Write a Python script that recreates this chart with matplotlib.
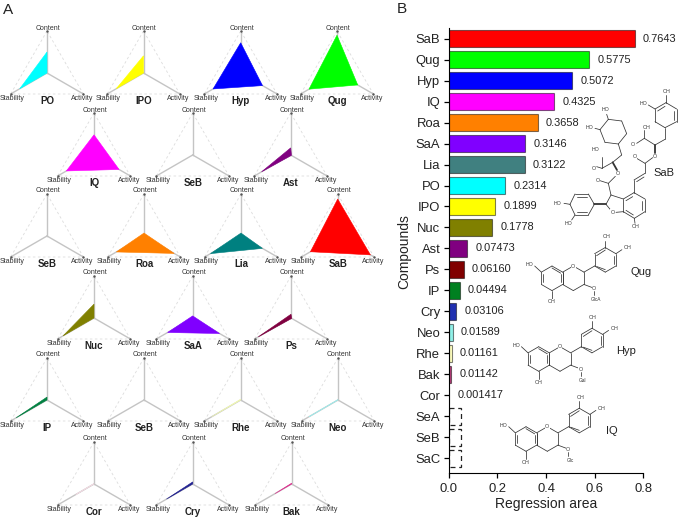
import numpy as np
import matplotlib
matplotlib.use('Agg')
import matplotlib.pyplot as plt

plt.rcParams['font.family'] = ['Liberation Sans', 'DejaVu Sans']

# panel B data
compounds = ['SaB', 'Qug', 'Hyp', 'IQ', 'Roa', 'SaA', 'Lia', 'PO', 'IPO', 'Nuc', 'Ast', 'Ps', 'IP', 'Cry',
             'Neo', 'Rhe', 'Bak', 'Cor', 'SeA', 'SeB', 'SaC']
areas = [0.7643, 0.5775, 0.5072, 0.4325, 0.3658, 0.3146, 0.3122, 0.2314, 0.1899, 0.1778, 0.07473, 0.06160,
         0.04494, 0.03106, 0.01589, 0.01161, 0.01142, 0.001417]
area_labels = ['0.7643', '0.5775', '0.5072', '0.4325', '0.3658', '0.3146', '0.3122', '0.2314', '0.1899', '0.1778',
               '0.07473', '0.06160', '0.04494', '0.03106', '0.01589', '0.01161', '0.01142', '0.001417']
not_detected = [0.05, 0.05, 0.05]
bar_colors = ['#ff0000', '#00ff00', '#0000ff', '#ff00ff', '#ff8000', '#8000ff', '#408080', '#00ffff', '#ffff00',
              '#808000', '#800080', '#800000', '#008020', '#2030b0', '#90f0e8', '#ffffc0', '#c04080', '#ffffff']

# panel A data (fraction of each axis)
radar_names = ['PO', 'IPO', 'Hyp', 'Qug', 'IQ', 'SeB', 'Ast', 'SeB', 'Roa', 'Lia', 'SaB', 'Nuc', 'SaA', 'Ps',
               'IP', 'SeB', 'Rhe', 'Neo', 'Cor', 'Cry', 'Bak']
content = [0.50, 0.41, 0.72, 0.90, 0.48, 0, 0.17, 0, 0.07, 0.07, 0.88, 0.33, 0.05, 0.09, 0.07, 0, 0.02, 0.01, 0.01, 0.05, 0.02]
stability = [0.75, 0.75, 0.76, 0.77, 0.76, 0, 0.80, 0, 0.76, 0.84, 0.75, 0.85, 0.69, 0.90, 0.85, 0, 0.80, 0.80, 0.50, 0.72, 0.46]
activity = [0, 0, 0.60, 0.57, 0.69, 0, 0.02, 0, 0.83, 0.59, 0.90, 0, 0.74, 0.02, 0, 0, 0, 0, 0, 0, 0]
radar_colors = ['#00ffff', '#ffff00', '#0000ff', '#00ff00', '#ff00ff', '#ffffff', '#800080', '#ffffff', '#ff8000',
                '#008080', '#ff0000', '#808000', '#8000ff', '#800040', '#008040', '#ffffff', '#f0f8b0', '#a0e8e8',
                '#f0d8e0', '#202090', '#e03090']

# radar layout in pixels
radar_x = [47, 143.5, 240.7, 337, 94, 192.7, 290.7, 47, 144, 241, 337.7, 94, 192.7, 291, 47, 144, 240.7, 338, 94, 192.7, 291.7]
radar_y = [73] * 4 + [155] * 3 + [236] * 4 + [318] * 3 + [400] * 4 + [484] * 3

W, H = 678, 518
fig = plt.figure(figsize=(W / 100, H / 100), dpi=100)

# bar chart
x0, x1, y_top, y_bot = 448.7, 643.3, 28, 473.3
ax = fig.add_axes([x0 / W, 1 - y_bot / H, (x1 - x0) / W, (y_bot - y_top) / H])
pos = np.arange(len(compounds))
ax.barh(pos[:18], areas, height=0.8, color=bar_colors, edgecolor='#00000080', linewidth=0.8)
ax.barh(pos[18:], not_detected, height=0.82, fill=False, edgecolor='#222222', linewidth=0.9, linestyle=(0, (4, 3)))
for p, v, s in zip(pos, areas, area_labels):
    ax.annotate(s, (v, p), xytext=(6, 0), textcoords='offset points', va='center', ha='left', fontsize=7.9, color='#222222')
ax.set_xlim(0, 0.8)
ax.set_ylim(20.72, -0.51)
ax.set_yticks(pos)
ax.set_yticklabels(compounds, fontsize=9.4, color='#222222')
ax.set_xticks([0, 0.2, 0.4, 0.6, 0.8])
ax.set_xticklabels(['0.0', '0.2', '0.4', '0.6', '0.8'], fontsize=9.4, color='#222222')
ax.tick_params(axis='both', length=3.5, width=0.9, pad=2.5)
ax.tick_params(axis='x', pad=3.5)
ax.spines['top'].set_visible(False)
ax.spines['right'].set_visible(False)
ax.set_xlabel('Regression area', fontsize=10, color='#222222', labelpad=1.5)

# overlay in pixel coordinates
ov = fig.add_axes([0, 0, 1, 1], facecolor='none')
ov.set_xlim(0, W)
ov.set_ylim(H, 0)
ov.axis('off')
ov.text(404, 252, 'Compounds', rotation=90, ha='center', va='center', fontsize=10, color='#222222')
ov.text(3, 14, 'A', fontsize=11, color='#222222')
ov.text(397, 13, 'B', fontsize=11, color='#222222')

R = 42
dirs = np.array([[0, -1], [-0.866, 0.5], [0.866, 0.5]])
for i, name in enumerate(radar_names):
    c = np.array([radar_x[i], radar_y[i]])
    tips = c + R * dirs
    ov.plot(*np.vstack([tips, tips[0]]).T, color='#dcdcdc', lw=0.6, ls=(0, (3, 3)), zorder=1)
    for t in tips:
        ov.plot([c[0], t[0]], [c[1], t[1]], color='#c4c4c4', lw=1.0, zorder=2)
        ov.plot(t[0], t[1], marker='.', ms=1.5, color='#555555', zorder=2)
    vals = np.array([content[i], stability[i], activity[i]])
    pts = c + R * dirs * vals[:, None]
    ov.fill(pts[:, 0], pts[:, 1], color=radar_colors[i], lw=0.4, zorder=3)
    ov.text(c[0] + 1, c[1] - 45, 'Content', ha='center', va='center', fontsize=5, color='#333333')
    ov.text(c[0] - 35, c[1] + 25.5, 'Stability', ha='center', va='center', fontsize=5, color='#333333')
    ov.text(c[0] + 35, c[1] + 25.5, 'Activity', ha='center', va='center', fontsize=5, color='#333333')
    ov.text(c[0], c[1] + 28, name, ha='center', va='center', fontsize=7, fontweight='bold', color='#222222')


# chemical structure sketches
def bond(p, q, lw=0.55, **kw):
    ov.plot([p[0], q[0]], [p[1], q[1]], color='#333333', lw=lw, solid_capstyle='round', **kw)


def ring(pts):
    for a, b in zip(pts, pts[1:] + pts[:1]):
        bond(a, b)


def atom(x, y, s, fs=3.8):
    ov.text(x, y, s, ha='center', va='center', fontsize=fs, color='#333333',
            bbox=dict(boxstyle='square,pad=0.05', fc='white', ec='none'))


def flavonoid(ox, oy, sugar, name, nx, ny):
    r = 12.3
    dx, dy = r * 0.866, r * 0.5
    o = (ox, oy)
    c2 = (ox + dx, oy + dy)
    c3 = (ox + dx, oy + dy + r)
    c4 = (ox, oy + 2 * r)
    c4a = (ox - dx, oy + dy + r)
    c8a = (ox - dx, oy + dy)
    ring([o, c2, c3, c4, c4a, c8a])
    a = [c8a, c4a, (ox - 2 * dx, oy + 2 * r), (ox - 3 * dx, oy + dy + r), (ox - 3 * dx, oy + dy), (ox - 2 * dx, oy)]
    ring(a)
    bond((ox - dx - 2, oy + dy + 2), (ox - dx - 2, oy + dy + r - 2))
    bond((ox - 3 * dx + 2, oy + dy + 2), (ox - 3 * dx + 2, oy + dy + r - 2))
    bond((ox - 2 * dx, oy + 2), (ox - dx - 2, oy + dy + 1))
    # hydroxyls on ring A
    bond(a[4], (ox - 4 * dx + 4, oy))
    atom(ox - 4 * dx - 1, oy - 1, 'HO')
    bond(a[2], (ox - 2 * dx, oy + 2 * r + 8))
    atom(ox - 2 * dx, oy + 2 * r + 11, 'OH')
    # ring B
    bx, by = c2[0] + dx, c2[1] - dy
    b = [(bx, by), (bx, by - r), (bx + dx, by - r - dy), (bx + 2 * dx, by - r), (bx + 2 * dx, by), (bx + dx, by + dy)]
    bond(c2, b[0])
    ring(b)
    bond((bx + 2, by - r + 2), (bx + dx, by - r - dy + 2.5))
    bond((bx + 2 * dx - 2, by - r + 2), (bx + 2 * dx - 2, by - 2))
    bond((bx + 2, by + 0.5), (bx + dx, by + dy - 2.5))
    bond(b[2], (bx + dx, by - r - dy - 7))
    atom(bx + dx + 1, by - r - dy - 11, 'OH')
    bond(b[3], (bx + 2 * dx + 6, by - r - 4))
    atom(bx + 2 * dx + 12, by - r - 6, 'OH')
    # sugar
    bond(c3, (c3[0] + 8, c3[1] + 3))
    atom(c3[0] + 10, c3[1] + 4, 'O')
    bond((c3[0] + 10, c3[1] + 7), (c3[0] + 10, c3[1] + 11))
    atom(c3[0] + 12, c3[1] + 15, sugar, 3.4)
    atom(ox, oy, 'O')
    ov.text(nx, ny, name, ha='center', va='center', fontsize=8, color='#222222')


flavonoid(573.3, 266, 'GlcA', 'Qug', 641, 272)
flavonoid(560, 346.7, 'Gal', 'Hyp', 626, 351)
flavonoid(547.3, 426.7, 'Glc', 'IQ', 612, 431)


# SaB structure, traced on a 3x grid
def sx(p):
    return (540 + p[0] / 3, 85 + p[1] / 3)


for path in [
    [(282, 323), (315, 342), (315, 380), (283, 400), (250, 380), (250, 342), (282, 323)],
    [(306, 347), (306, 375)],
    [(258, 347), (278, 335)],
    [(258, 376), (280, 390)],
    [(250, 342), (213, 330), (198, 358), (212, 375)],
    [(228, 382), (250, 380)],
    [(105, 327), (145, 327), (163, 358), (145, 390), (105, 390), (90, 358), (105, 327)],
    [(112, 335), (140, 335)],
    [(112, 382), (140, 382)],
    [(283, 400), (285, 415)],
    [(282, 323), (282, 285), (315, 265), (315, 235), (338, 218)],
    [(290, 290), (312, 276)],
    [(315, 235), (290, 220)],
    [(345, 180), (313, 160), (290, 175)],
    [(313, 160), (313, 135)],
    [(345, 180), (375, 163), (375, 128), (345, 110), (345, 72), (378, 53), (410, 72), (410, 110), (375, 128)],
    [(402, 78), (402, 105)],
    [(353, 78), (375, 64)],
    [(378, 53), (378, 30)],
    [(345, 72), (325, 60)],
    [(213, 330), (205, 295), (180, 287)],
    [(205, 295), (226, 274)],
    [(218, 232), (186, 250), (170, 245)],
    [(186, 250), (186, 215)],
    [(218, 232), (245, 210), (235, 177)],
    [(235, 177), (195, 172), (180, 134), (205, 103), (245, 108), (260, 146), (235, 177)],
    [(205, 103), (200, 88)],
    [(180, 134), (165, 130)],
    [(90, 358), (72, 355)],
    [(105, 390), (95, 405)],
]:
    for a, b in zip(path, path[1:]):
        bond(sx(a), sx(b))
for a, b in [((163, 358), (198, 358)), ((345, 205), (345, 180)), ((231, 255), (218, 232))]:
    bond(sx(a), sx(b), lw=1.3)
for lab in [(52, 355, 'HO'), (85, 415, 'HO'), (218, 381, 'O'), (288, 425, 'OH'), (285, 216, 'O'), (345, 215, 'O'),
            (278, 178, 'O'), (320, 127, 'OH'), (380, 20, 'OH'), (310, 55, 'HO'), (172, 285, 'O'), (232, 266, 'O'),
            (160, 250, 'O'), (168, 193, 'HO'), (195, 73, 'HO'), (150, 127, 'HO')]:
    x, y = sx(lab[:2])
    atom(x, y, lab[2])
x, y = sx((372, 265))
ov.text(x, y, 'SaB', ha='center', va='center', fontsize=8, color='#222222')

fig.savefig('out.png', dpi=100)
